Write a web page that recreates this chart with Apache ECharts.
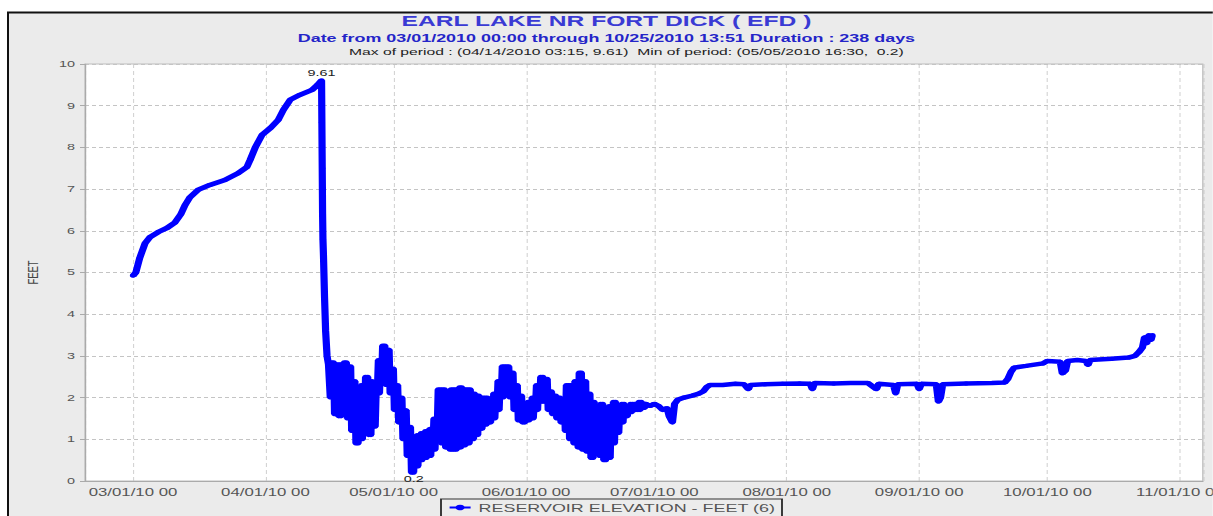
<!DOCTYPE html>
<html>
<head>
<meta charset="utf-8">
<script src="https://cdn.jsdelivr.net/npm/echarts@6/dist/echarts.min.js"></script>
<style>
  html, body { margin: 0; padding: 0; background: #fff; overflow: hidden; }
  /* The chart is laid out narrow and widened horizontally, giving the stretched lettering of the original plot */
  #chart { width: 758.125px; height: 516px; transform: scaleX(1.6); transform-origin: 0 0; }
</style>
</head>
<body>
<div id="chart"></div>
<script>
// Reservoir elevation, Earl Lake near Fort Dick, 2010 (feet)

const titleText = 'EARL LAKE NR FORT DICK ( EFD )';
const periodText = 'Date from 03/01/2010 00:00 through 10/25/2010 13:51 Duration : 238 days';
const extremesText = 'Max of period : (04/14/2010 03:15, 9.61)  Min of period: (05/05/2010 16:30,  0.2)';
const seriesName = 'RESERVOIR ELEVATION - FEET (6)';

const maxPoint = ['2010-04-14 03:15', 9.61];
const minPoint = ['2010-05-05 16:30', 0.2];

// Spring fill-up: [time, elevation]
const springRise = [
  ['2010-03-01 00:00', 4.92], ['2010-03-01 16:00', 5.0], ['2010-03-02 14:00', 5.35],
  ['2010-03-03 20:00', 5.7], ['2010-03-05 00:00', 5.85], ['2010-03-06 22:00', 5.97],
  ['2010-03-09 00:00', 6.07], ['2010-03-10 20:00', 6.2], ['2010-03-12 05:00', 6.4],
  ['2010-03-13 05:00', 6.62], ['2010-03-14 07:00', 6.8], ['2010-03-16 05:00', 6.98],
  ['2010-03-19 00:00', 7.1], ['2010-03-22 12:00', 7.22], ['2010-03-25 14:00', 7.38],
  ['2010-03-27 16:00', 7.53], ['2010-03-28 10:00', 7.7], ['2010-03-29 14:00', 7.99],
  ['2010-03-31 05:00', 8.3], ['2010-04-02 05:00', 8.47], ['2010-04-04 00:00', 8.66],
  ['2010-04-05 05:00', 8.9], ['2010-04-06 19:00', 9.14], ['2010-04-09 02:00', 9.26],
  ['2010-04-11 22:00', 9.38], ['2010-04-13 05:00', 9.5]
];

// Drawdown after the peak: [time, elevation]
const drawdown = [
  ['2010-04-14 05:00', 8.6], ['2010-04-14 07:00', 7.5], ['2010-04-14 09:00', 6.4],
  ['2010-04-14 11:00', 5.8], ['2010-04-14 14:00', 5.4], ['2010-04-14 20:00', 4.4],
  ['2010-04-15 02:00', 3.6], ['2010-04-15 10:00', 3.0], ['2010-04-15 18:00', 2.8]
];

// Tidal fluctuation, daily envelope: [day, high, low]
const fluctuation = [
  ['2010-04-16', 2.85, 2.0], ['2010-04-17', 2.8, 1.6], ['2010-04-18', 2.8, 1.55],
  ['2010-04-19', 2.85, 1.6], ['2010-04-20', 2.75, 1.5], ['2010-04-21', 2.4, 1.2],
  ['2010-04-22', 2.1, 0.9], ['2010-04-23', 2.3, 1.0], ['2010-04-24', 2.5, 1.2],
  ['2010-04-25', 2.4, 1.1], ['2010-04-26', 2.3, 1.3], ['2010-04-27', 2.9, 2.1],
  ['2010-04-28', 3.25, 2.4], ['2010-04-29', 3.15, 2.3], ['2010-04-30', 2.7, 2.1],
  ['2010-05-01', 2.3, 1.7], ['2010-05-02', 2.0, 1.4], ['2010-05-03', 1.7, 1.0],
  ['2010-05-04', 1.3, 0.6], ['2010-05-05', 1.0, 0.2], ['2010-05-06', 1.1, 0.35],
  ['2010-05-07', 1.15, 0.5], ['2010-05-08', 1.2, 0.55], ['2010-05-09', 1.25, 0.6],
  ['2010-05-10', 1.5, 0.75], ['2010-05-11', 2.2, 1.1], ['2010-05-12', 2.2, 0.9],
  ['2010-05-13', 2.15, 0.8], ['2010-05-14', 2.2, 0.75], ['2010-05-15', 2.2, 0.75],
  ['2010-05-16', 2.25, 0.8], ['2010-05-17', 2.2, 0.85], ['2010-05-18', 2.2, 0.9],
  ['2010-05-19', 2.1, 1.0], ['2010-05-20', 2.05, 1.1], ['2010-05-21', 2.0, 1.25],
  ['2010-05-22', 2.0, 1.35], ['2010-05-23', 1.95, 1.4], ['2010-05-24', 2.1, 1.5],
  ['2010-05-25', 2.4, 1.7], ['2010-05-26', 2.75, 2.0], ['2010-05-27', 2.75, 2.1],
  ['2010-05-28', 2.6, 2.0], ['2010-05-29', 2.3, 1.7], ['2010-05-30', 2.05, 1.45],
  ['2010-05-31', 1.85, 1.4], ['2010-06-01', 1.9, 1.45], ['2010-06-02', 2.0, 1.5],
  ['2010-06-03', 2.3, 1.7], ['2010-06-04', 2.5, 1.9], ['2010-06-05', 2.45, 1.9],
  ['2010-06-06', 2.15, 1.7], ['2010-06-07', 2.05, 1.6], ['2010-06-08', 2.0, 1.5],
  ['2010-06-09', 1.95, 1.4], ['2010-06-10', 2.3, 1.2], ['2010-06-11', 2.3, 1.0],
  ['2010-06-12', 2.4, 0.9], ['2010-06-13', 2.6, 0.8], ['2010-06-14', 2.4, 0.75],
  ['2010-06-15', 2.1, 0.7], ['2010-06-16', 1.9, 0.55], ['2010-06-17', 1.8, 0.75],
  ['2010-06-18', 1.85, 0.6], ['2010-06-19', 1.75, 0.5], ['2010-06-20', 1.8, 0.55],
  ['2010-06-21', 1.9, 0.9], ['2010-06-22', 1.8, 1.15], ['2010-06-23', 1.85, 1.4],
  ['2010-06-24', 1.8, 1.55], ['2010-06-25', 1.85, 1.65], ['2010-06-26', 1.85, 1.7],
  ['2010-06-27', 1.9, 1.7], ['2010-06-28', 1.85, 1.75]
];

// Summer pool: [time, elevation]
const summerPool = [
  ['2010-06-29 00:00', 1.85], ['2010-06-30 00:00', 1.8], ['2010-07-01 00:00', 1.85],
  ['2010-07-02 00:00', 1.8], ['2010-07-03 00:00', 1.7], ['2010-07-04 00:00', 1.75],
  ['2010-07-04 12:00', 1.55], ['2010-07-05 06:00', 1.4], ['2010-07-05 18:00', 1.85],
  ['2010-07-06 12:00', 1.95], ['2010-07-08 00:00', 2.0], ['2010-07-10 00:00', 2.05],
  ['2010-07-11 12:00', 2.1], ['2010-07-12 12:00', 2.15], ['2010-07-13 06:00', 2.25],
  ['2010-07-14 00:00', 2.3], ['2010-07-17 00:00', 2.3], ['2010-07-20 00:00', 2.33],
  ['2010-07-22 00:00', 2.32], ['2010-07-23 00:00', 2.2], ['2010-07-23 12:00', 2.3],
  ['2010-07-27 00:00', 2.32], ['2010-07-31 00:00', 2.33], ['2010-08-04 00:00', 2.34],
  ['2010-08-06 12:00', 2.33], ['2010-08-07 00:00', 2.2], ['2010-08-07 12:00', 2.35],
  ['2010-08-12 00:00', 2.34], ['2010-08-16 00:00', 2.35], ['2010-08-20 00:00', 2.35],
  ['2010-08-22 00:00', 2.2], ['2010-08-22 12:00', 2.33], ['2010-08-26 00:00', 2.3],
  ['2010-08-26 12:00', 2.1], ['2010-08-27 00:00', 2.32], ['2010-08-31 12:00', 2.33],
  ['2010-09-01 00:00', 2.2], ['2010-09-01 12:00', 2.33], ['2010-09-05 00:00', 2.32],
  ['2010-09-05 12:00', 1.9], ['2010-09-06 00:00', 2.0], ['2010-09-06 12:00', 2.32],
  ['2010-09-12 00:00', 2.34], ['2010-09-18 00:00', 2.35], ['2010-09-21 00:00', 2.36]
];

// Autumn rise to end of record: [time, elevation]
const fallRise = [
  ['2010-09-21 18:00', 2.45], ['2010-09-22 12:00', 2.62], ['2010-09-23 06:00', 2.72],
  ['2010-09-26 00:00', 2.76], ['2010-09-30 00:00', 2.82], ['2010-10-01 00:00', 2.88],
  ['2010-10-04 00:00', 2.86], ['2010-10-04 12:00', 2.58], ['2010-10-05 06:00', 2.65],
  ['2010-10-05 18:00', 2.88], ['2010-10-08 00:00', 2.9], ['2010-10-10 00:00', 2.88],
  ['2010-10-10 12:00', 2.78], ['2010-10-11 00:00', 2.9], ['2010-10-16 00:00', 2.93],
  ['2010-10-20 00:00', 2.96], ['2010-10-21 12:00', 3.0], ['2010-10-22 12:00', 3.1],
  ['2010-10-23 06:00', 3.2], ['2010-10-23 18:00', 3.45], ['2010-10-24 06:00', 3.3],
  ['2010-10-24 18:00', 3.5], ['2010-10-25 06:00', 3.38], ['2010-10-25 13:51', 3.5]
];

const yTicks = [0, 1, 2, 3, 4, 5, 6, 7, 8, 9, 10];
const axisStart = '2010-02-17 18:30';
const axisEnd = '2010-11-06 09:00';

// Horizontal stretch applied to the chart container
const S = 1.6;
const px = v => v / S;

// Two tides a day: low, high, low, high from each daily envelope
const fluctuationPoints = [];
fluctuation.forEach(([day, hi, lo]) => {
  fluctuationPoints.push([day + ' 04:15', lo]);
  fluctuationPoints.push([day + ' 10:20', hi]);
  fluctuationPoints.push([day + ' 16:30', lo]);
  fluctuationPoints.push([day + ' 22:40', hi]);
});

const elevation = [].concat(springRise, [maxPoint], drawdown, fluctuationPoints, summerPool, fallRise);

const pad = n => (n < 10 ? '0' : '') + n;
function dateLabel(v) {
  const d = new Date(v);
  return pad(d.getMonth() + 1) + '/' + pad(d.getDate()) + '/' + String(d.getFullYear()).slice(2) + ' ' + pad(d.getHours());
}

const chart = echarts.init(document.getElementById('chart'), null, { renderer: 'svg' });
const FONT = 'Liberation Sans, Arial, sans-serif';
const W = 1213 / S;

chart.setOption({
  animation: false,
  backgroundColor: '#ebebeb',
  textStyle: { fontFamily: FONT },
  graphic: [
    { type: 'rect', z: -1, shape: { x: 0, y: 0, width: W, height: 12 }, style: { fill: '#fff' }, silent: true },
    { type: 'rect', z: -1, shape: { x: 0, y: 0, width: px(7), height: 516 }, style: { fill: '#fff' }, silent: true },
    { type: 'line', shape: { x1: px(7), y1: 12.5, x2: W, y2: 12.5 }, style: { stroke: '#111', lineWidth: 2 }, silent: true },
    { type: 'line', shape: { x1: px(8), y1: 12, x2: px(8), y2: 516 }, style: { stroke: '#111', lineWidth: px(2) }, silent: true }
  ],
  title: [
    { text: titleText, left: 'center', top: 13, padding: 0,
      textStyle: { fontSize: 15.4, fontWeight: 'bold', color: '#3a3ad4', fontFamily: FONT } },
    { text: periodText, left: 'center', top: 32, padding: 0,
      textStyle: { fontSize: 11.2, fontWeight: 'bold', color: '#2424c8', fontFamily: FONT } },
    { text: extremesText, left: px(349), top: 47, padding: 0,
      textStyle: { fontSize: 9.8, fontWeight: 'normal', color: '#222', fontFamily: FONT } }
  ],
  legend: {
    data: [seriesName],
    left: px(441), top: 499,
    padding: [3, px(7), 10, px(7)],
    backgroundColor: '#ececec',
    borderColor: '#333', borderWidth: 1.2,
    itemWidth: px(21), itemHeight: 7,
    textStyle: { fontSize: 11.2, color: '#555', fontFamily: FONT }
  },
  grid: {
    left: px(85), right: px(10), top: 64, bottom: 35,
    outerBoundsMode: 'none', containLabel: false,
    show: true, backgroundColor: '#fff', borderColor: '#bdbdbd', borderWidth: 0.8
  },
  xAxis: {
    type: 'time',
    min: axisStart, max: axisEnd,
    splitNumber: 9,
    minInterval: 28 * 86400000,
    maxInterval: 31 * 86400000,
    axisLine: { lineStyle: { color: '#aaa' } },
    axisTick: { show: false },
    axisLabel: { formatter: dateLabel, color: '#555', fontSize: 10.5, margin: 6,
      showMinLabel: false, showMaxLabel: false, hideOverlap: false },
    splitLine: { show: true, lineStyle: { color: '#c4c4c4', width: px(1), type: [4, 3] } }
  },
  yAxis: {
    type: 'value', min: yTicks[0], max: yTicks[yTicks.length - 1], interval: 1,
    name: 'FEET', nameLocation: 'middle', nameGap: 20, nameRotate: 90,
    nameTextStyle: { color: '#444', fontSize: 9.5 },
    axisLine: { show: true, lineStyle: { color: '#aaa', width: px(1.2) } },
    axisTick: { show: true, length: px(5), lineStyle: { color: '#aaa' } },
    axisLabel: { color: '#555', fontSize: 9, margin: px(10) },
    splitLine: { show: true, lineStyle: { color: '#c4c4c4', type: [px(4), px(3)] } }
  },
  series: [{
    name: seriesName,
    type: 'line',
    data: elevation,
    color: '#0000ff',
    symbol: 'circle', symbolSize: 4, showSymbol: true,
    lineStyle: { width: 4.5, color: '#0000ff' },
    itemStyle: { color: '#0000ff' },
    sampling: 'none',
    markPoint: {
      symbol: 'circle', symbolSize: 1,
      itemStyle: { color: '#0000ff' },
      label: { show: true, color: '#222', fontSize: 9, fontFamily: FONT },
      data: [
        { coord: maxPoint, value: maxPoint[1], label: { position: 'top', distance: 2, formatter: String(maxPoint[1]) } },
        { coord: minPoint, value: minPoint[1], label: { position: 'bottom', distance: 1, formatter: String(minPoint[1]) } }
      ]
    }
  }]
});
</script>
</body>
</html>
